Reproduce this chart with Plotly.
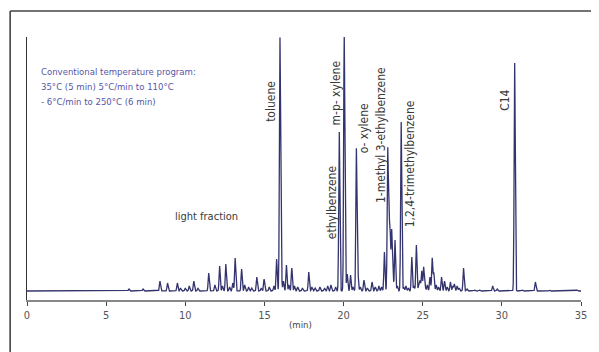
import numpy as np
import plotly.graph_objects as go

# Peak retention times (min) and heights (arbitrary units, baseline = 0)
peak_times = [6.44, 7.33, 8.40, 8.88, 9.50, 9.70, 10.00, 10.25, 10.54, 10.80,
              11.48, 11.87, 12.17, 12.35, 12.56, 12.80, 13.00, 13.15, 13.56, 13.75,
              14.00, 14.20, 14.52, 14.80, 14.98, 15.30, 15.60, 15.77, 15.98, 16.05,
              16.20, 16.39, 16.55, 16.73, 16.90, 17.10, 17.40, 17.80, 18.00, 18.20,
              18.50, 18.80, 19.00, 19.20, 19.50, 19.73, 20.04, 20.10, 20.23, 20.44,
              20.60, 20.81, 20.90, 21.05, 21.29, 21.50, 21.80, 22.00, 22.23, 22.40,
              22.58, 22.79, 22.87, 22.94, 23.04, 23.12, 23.25, 23.40, 23.64, 23.80,
              23.94, 24.10, 24.31, 24.45, 24.60, 24.75, 24.83, 24.94, 25.06, 25.15,
              25.29, 25.46, 25.60, 25.70, 25.85, 26.00, 26.19, 26.38, 26.55, 26.75,
              26.90, 27.00, 27.17, 27.30, 27.58, 27.80, 28.30, 28.60, 29.42, 29.70,
              30.81, 31.30, 32.12, 33.00, 34.75]
peak_heights = [2, 2, 10, 8, 8, 3, 3, 5, 10, 3,
                18, 6, 25, 5, 27, 4, 8, 33, 22, 6,
                4, 3, 14, 3, 12, 4, 5, 32, 248, 40,
                10, 26, 6, 23, 5, 4, 3, 19, 4, 3,
                4, 3, 5, 6, 4, 159, 249, 30, 17, 16,
                4, 142, 20, 4, 11, 3, 9, 4, 5, 4,
                39, 139, 59, 55, 60, 15, 51, 5, 169, 4,
                5, 3, 34, 5, 46, 6, 10, 20, 24, 5,
                6, 14, 33, 18, 6, 4, 14, 10, 4, 9,
                5, 7, 5, 3, 23, 2, 1, 1, 5, 2,
                228, 1, 9, 1, 1]

compound_labels = ["toluene", "m-p- xylene", "ethylbenzene", "o- xylene",
                   "1-methyl 3-ethylbenzene", "1,2,4-trimethylbenzene", "C14"]
tick_values = [0, 5, 10, 15, 20, 25, 30, 35]
program_text = ["Conventional temperature program:",
                "35°C (5 min) 5°C/min to 110°C",
                "- 6°C/min to 250°C (6 min)"]

# build chromatogram trace from the peak table
t = np.linspace(0, 35, 14001)
sig = np.zeros_like(t)
width = 0.035
for pt, ph in zip(peak_times, peak_heights):
    sig += ph * np.exp(-0.5 * ((t - pt) / width) ** 2)

FONT = "DejaVu Sans Condensed, Liberation Sans Narrow, sans-serif"
LINE = "#33336e"

fig = go.Figure()
fig.add_trace(go.Scatter(x=t, y=sig, mode="lines",
                         line=dict(color=LINE, width=1.3),
                         hoverinfo="skip", showlegend=False))

# label positions (x in min, y in signal units)
label_pos = [(15.375, 189.5), (19.52, 198.5), (19.25, 88.5), (21.31, 163),
             (22.34, 155.5), (24.22, 127), (30.19, 191)]
for txt, (lx, ly) in zip(compound_labels, label_pos):
    fig.add_annotation(x=lx, y=ly, xref="x", yref="y", text=txt, textangle=-90,
                       showarrow=False, xanchor="center", yanchor="middle",
                       font=dict(family=FONT, size=12, color="#3a3a3a"))

fig.add_annotation(x=11.31, y=75, xref="x", yref="y", text="light fraction",
                   showarrow=False, font=dict(family=FONT, size=11, color="#3a3a3a"))

for i, line in enumerate(program_text):
    fig.add_annotation(x=0.75, y=220 - 15 * i, xref="x", yref="y", text=line,
                       showarrow=False, xanchor="left", yanchor="middle",
                       font=dict(family=FONT, size=9.5, color="#5656a8"))

fig.add_annotation(x=17.25, y=-0.1217, xref="x", yref="paper", text="(min)",
                   showarrow=False, font=dict(family=FONT, size=9.5, color="#444"))

# L-shaped outer frame
fig.add_shape(type="line", xref="paper", yref="paper",
              x0=-0.0304, y0=1.099, x1=1.05, y1=1.099,
              line=dict(color="#444", width=1.6))
fig.add_shape(type="line", xref="paper", yref="paper",
              x0=-0.0304, y0=1.099, x1=-0.0304, y1=-0.25,
              line=dict(color="#444", width=1.6))

fig.update_layout(
    width=591, height=344,
    margin=dict(l=19, r=12, t=29, b=52),
    paper_bgcolor="white", plot_bgcolor="white",
    xaxis=dict(range=[0, 35], tickvals=tick_values, showgrid=False, zeroline=False,
               showline=True, linecolor="#888", linewidth=1.5,
               ticks="outside", ticklen=4, tickcolor="#444", tickwidth=1,
               tickfont=dict(family=FONT, size=11, color="#555")),
    yaxis=dict(range=[-9, 254], showgrid=False, zeroline=False, showticklabels=False,
               showline=True, linecolor="#333", linewidth=1.2, ticks=""),
)

fig.write_html("out.html")
